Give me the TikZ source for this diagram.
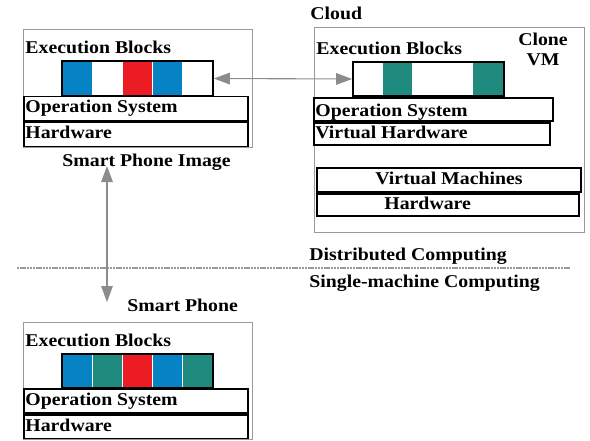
\documentclass[tikz,border=0pt]{standalone}
\usepackage{fontspec}
\setmainfont{Liberation Serif}[FakeStretch=1.1]
\usetikzlibrary{fit,arrows.meta}
\definecolor{eblue}{HTML}{0683C4}
\definecolor{eteal}{HTML}{1F8A7E}
\definecolor{ered}{HTML}{EC1C24}
\definecolor{frame}{HTML}{9A9A9A}
\definecolor{arrowgray}{HTML}{8C8C8C}
\tikzset{
  outerbox/.style={draw=frame, line width=0.5pt, inner sep=0pt, fit={#1}},
  layerbox/.style={draw=black, line width=0.85pt, inner sep=0pt, fit={#1}},
  stripbox/.style={draw=black, line width=0.85pt, inner sep=0pt, fit={#1}},
  lbl/.style={inner sep=0pt, font=\fontsize{9}{11}\selectfont\bfseries},
  conn/.style={draw=arrowgray, line width=0.55pt, {Triangle[length=8pt,width=5.8pt]}-{Triangle[length=8pt,width=5.8pt]}},
}
\begin{document}
\begin{tikzpicture}[x=0.5pt,y=-0.5pt]
\useasboundingbox (0,0) rectangle (590,440);
% ---------- Smart Phone Image (top left) ----------
\node[outerbox={(23,29)(252,147)}] (imgframe) {};
\fill[eblue] (62,61) rectangle (92,96);
\fill[ered]  (123,61) rectangle (152,96);
\fill[eblue] (153,61) rectangle (182,96);
\node[stripbox={(62,61)(213,96)}] (istrip) {};
\node[layerbox={(24,96.5)(248,120.5)}] (ios) {};
\node[layerbox={(24,122)(248,146.5)}] (ihw) {};
\node[lbl, anchor=base west] (iexec) at (25,53) {Execution Blocks};
\node[lbl, anchor=base west] (iost) at (25,112) {Operation System};
\node[lbl, anchor=base west] (ihwt) at (25,138) {Hardware};
\node[lbl, anchor=base west] (spi) at (62,166) {Smart Phone Image};
% ---------- Cloud (top right) ----------
\node[lbl, anchor=base west] (cloud) at (310,19) {Cloud};
\node[outerbox={(314,27)(584,232)}] (cframe) {};
\node[lbl, anchor=base] (clone) at (543,45) {Clone};
\node[lbl, anchor=base] (vm) at (543,65) {VM};
\fill[eteal] (383,62) rectangle (412,96);
\fill[eteal] (473,62) rectangle (503,96);
\node[stripbox={(353,62)(504,96)}] (cstrip) {};
\node[layerbox={(314,98)(553,121)}] (cos) {};
\node[layerbox={(314,123)(550,145)}] (cvh) {};
\node[layerbox={(317,168)(581,192)}] (cvms) {};
\node[layerbox={(317,194)(579,216)}] (chw) {};
\node[lbl, anchor=base west] (cexec) at (316,54) {Execution Blocks};
\node[lbl, anchor=base west] (cost) at (315,116) {Operation System};
\node[lbl, anchor=base west] (cvht) at (315,138) {Virtual Hardware};
\node[lbl, anchor=base] (cvmst) at (449,184) {Virtual Machines};
\node[lbl, anchor=base west] (chwt) at (384,209) {Hardware};
% ---------- divider ----------
\coordinate (dl) at (17,268);
\coordinate (dr) at (570,268);
\draw[frame, line width=0.7pt, dash pattern=on 1.2pt off 0.4pt] (dl) -- (dr);
\node[lbl, anchor=base west] (dist) at (309,260) {Distributed Computing};
\node[lbl, anchor=base west] (single) at (309,287) {Single-machine Computing};
% ---------- Smart Phone (bottom) ----------
\node[lbl, anchor=base west] (sp) at (127,311) {Smart Phone};
\node[outerbox={(23,322)(252,439)}] (pframe) {};
\fill[eblue] (62,354) rectangle (92,388);
\fill[eteal] (93,354) rectangle (122,388);
\fill[ered]  (123,354) rectangle (152,388);
\fill[eblue] (153,354) rectangle (182,388);
\fill[eteal] (183,354) rectangle (213,388);
\node[stripbox={(62,354)(213,388)}] (pstrip) {};
\node[layerbox={(24,389)(248,413)}] (pos) {};
\node[layerbox={(24,415)(248,438.5)}] (phw) {};
\node[lbl, anchor=base west] (pexec) at (25,346) {Execution Blocks};
\node[lbl, anchor=base west] (post) at (25,405) {Operation System};
\node[lbl, anchor=base west] (phwt) at (25,431) {Hardware};
% ---------- connectors ----------
\draw[conn] (istrip.east) -- (cstrip.west);
\coordinate (vtop) at (107,166);
\coordinate (vbot) at (107,302);
\draw[conn] (vtop) -- (vbot);
\end{tikzpicture}
\end{document}
